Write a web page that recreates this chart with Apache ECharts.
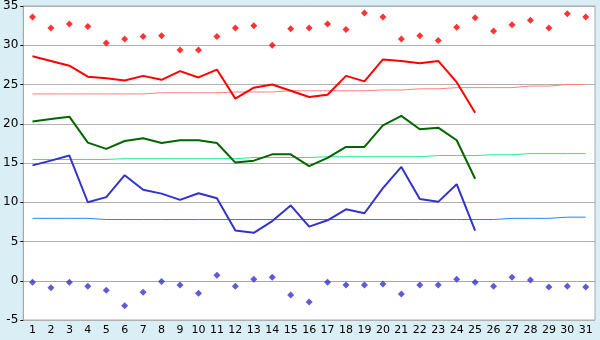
<!DOCTYPE html>
<html>
<head>
<meta charset="utf-8">
<script src="https://cdn.jsdelivr.net/npm/echarts@6/dist/echarts.min.js"></script>
<style>
  html, body { margin: 0; padding: 0; background: #daeef6; }
  #chart { width: 600px; height: 340px; }
</style>
</head>
<body>
<div id="chart"></div>
<script>
// days of month
var days = [];
for (var d = 1; d <= 31; d++) days.push(String(d));

// record highs (red diamonds)
var recordMax = [33.6, 32.2, 32.7, 32.4, 30.3, 30.8, 31.1, 31.2, 29.4, 29.4, 31.1, 32.2, 32.5, 30.0, 32.1, 32.2,
                 32.7, 32.0, 34.1, 33.6, 30.8, 31.2, 30.6, 32.3, 33.5, 31.8, 32.6, 33.2, 32.2, 34.0, 33.6];
// daily max (red line)
var dailyMax = [28.6, 28.0, 27.4, 26.0, 25.8, 25.5, 26.1, 25.6, 26.7, 25.9, 26.9, 23.2, 24.6, 25.0, 24.2, 23.4,
                23.7, 26.1, 25.4, 28.2, 28.0, 27.7, 28.0, 25.3, 21.4];
// normal max (pink line)
var normalMax = [23.8, 23.8, 23.8, 23.8, 23.8, 23.8, 23.8, 23.95, 23.95, 23.95, 23.95, 24.05, 24.05, 24.05, 24.2, 24.2,
                 24.2, 24.2, 24.2, 24.3, 24.3, 24.45, 24.45, 24.6, 24.6, 24.6, 24.6, 24.8, 24.8, 25.0, 25.0];
// daily mean (green line)
var dailyMean = [20.3, 20.6, 20.9, 17.6, 16.8, 17.8, 18.15, 17.55, 17.9, 17.9, 17.55, 15.05, 15.3, 16.1, 16.1, 14.6,
                 15.65, 17.05, 17.05, 19.8, 21.0, 19.3, 19.5, 17.9, 13.0];
// normal mean (light green line)
var normalMean = [15.45, 15.45, 15.45, 15.45, 15.45, 15.55, 15.55, 15.55, 15.55, 15.55, 15.55, 15.55, 15.7, 15.7, 15.7, 15.7,
                  15.8, 15.8, 15.8, 15.8, 15.8, 15.8, 15.95, 15.95, 15.95, 16.05, 16.05, 16.2, 16.2, 16.2, 16.2];
// daily min (blue line)
var dailyMin = [14.7, 15.3, 15.95, 10.0, 10.65, 13.45, 11.6, 11.1, 10.3, 11.15, 10.5, 6.4, 6.1, 7.6, 9.6, 6.9,
                7.7, 9.1, 8.6, 11.8, 14.5, 10.4, 10.05, 12.3, 6.4];
// normal min (light blue line)
var normalMin = [7.95, 7.95, 7.95, 7.95, 7.8, 7.8, 7.8, 7.8, 7.8, 7.8, 7.8, 7.8, 7.8, 7.8, 7.8, 7.8,
                 7.8, 7.8, 7.8, 7.8, 7.8, 7.8, 7.8, 7.8, 7.8, 7.8, 7.95, 7.95, 7.95, 8.1, 8.1];
// record lows (blue diamonds)
var recordMin = [-0.2, -0.9, -0.2, -0.7, -1.2, -3.2, -1.45, -0.1, -0.55, -1.6, 0.7, -0.7, 0.2, 0.45, -1.8, -2.7,
                 -0.2, -0.55, -0.55, -0.4, -1.7, -0.55, -0.55, 0.2, -0.2, -0.7, 0.45, 0.1, -0.8, -0.7, -0.8];

var myChart = echarts.init(document.getElementById('chart'));

function line(data, color, width) {
    return {
        type: 'line', data: data, symbol: 'none', animation: false,
        lineStyle: { color: color, width: width }
    };
}
function dots(data, color) {
    return {
        type: 'scatter', data: data, symbol: 'diamond', symbolSize: 7, animation: false,
        itemStyle: { color: color }
    };
}

var option = {
    backgroundColor: '#daeef6',
    grid: { left: 20, right: 5, top: 5, bottom: 20, show: true, backgroundColor: '#ffffff', borderColor: '#a8a8a8', borderWidth: 1 },
    xAxis: {
        type: 'category',
        data: days,
        boundaryGap: true,
        axisLine: { lineStyle: { color: '#a8a8a8' } },
        axisTick: { alignWithLabel: true, length: 4, lineStyle: { color: '#000' } },
        axisLabel: { color: '#000', fontFamily: 'DejaVu Sans', fontSize: 11, margin: 5, interval: 0 },
        splitLine: { show: false }
    },
    yAxis: {
        type: 'value',
        min: -5, max: 35, interval: 5,
        axisLine: { show: true, lineStyle: { color: '#a8a8a8' } },
        axisTick: { show: true, length: 3, lineStyle: { color: '#000' } },
        axisLabel: { color: '#000', fontFamily: 'DejaVu Sans', fontSize: 12, margin: 5 },
        splitLine: { lineStyle: { color: '#b0b0b0', width: 1 } }
    },
    series: [
        dots(recordMax, '#ff0000'),
        line(normalMax, '#ff8080', 1),
        line(dailyMax, '#ff0000', 2),
        line(normalMean, '#22ee88', 1),
        line(dailyMean, '#006600', 2),
        line(normalMin, '#1a88ff', 1),
        line(dailyMin, '#3333cc', 2),
        dots(recordMin, '#3333cc')
    ]
};
myChart.setOption(option);
</script>
</body>
</html>
